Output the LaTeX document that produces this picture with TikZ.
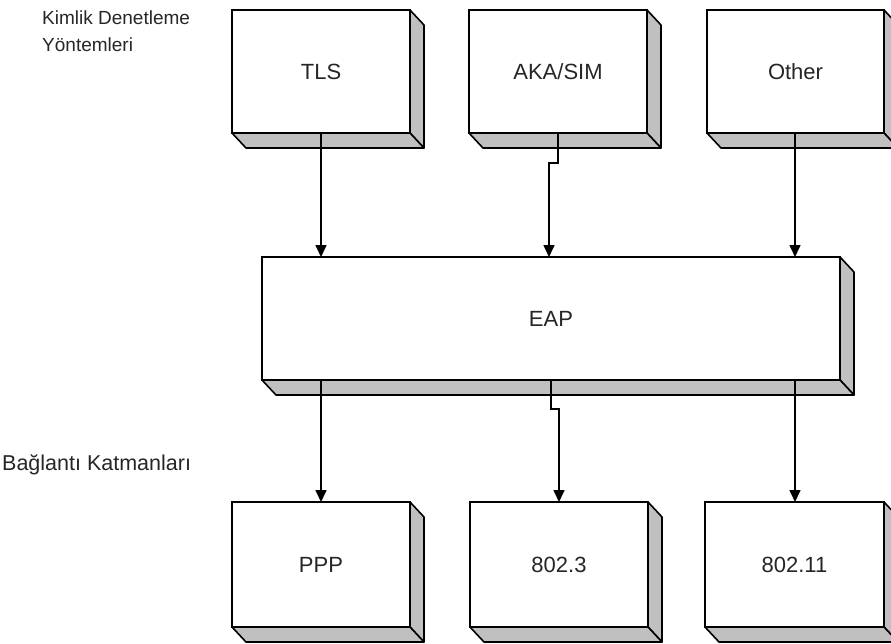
\documentclass[tikz,border=0pt]{standalone}
\usepackage{fontspec}
\setmainfont{Liberation Sans}
\usetikzlibrary{arrows.meta,calc}
\definecolor{sidegray}{HTML}{C0C0C0}
\begin{document}
\begin{tikzpicture}[x=1pt,y=-1pt,
  box3d/.style={draw=black, fill=white, line width=1.6pt, outer sep=0pt,
    minimum width=178pt, minimum height=123pt, inner sep=0pt,
    font=\fontsize{22}{26}\selectfont, text=black!85},
  face/.style={draw=black, fill=sidegray, line width=1.6pt, line join=round},
  link/.style={draw=black, line width=1.6pt, -{Triangle[width=11pt,length=12pt]}},
  side/.style={font=\fontsize{19}{27}\selectfont, text=black!85, align=left, anchor=west, inner sep=0pt}]
\useasboundingbox (0,0) rectangle (891,643);
\fill[white] (0,0) rectangle (891,643);

% upper row: authentication methods
\node[box3d] (tls) at (321,71.5) {TLS};
\node[box3d] (aka) at (558,71.5) {AKA/SIM};
\node[box3d, minimum width=177pt] (oth) at (795.5,71.5) {Other};
% middle: EAP
\node[box3d, minimum width=578pt] (eap) at (551,318.5) {EAP};
% lower row: link layers
\node[box3d, minimum height=125pt] (ppp) at (321,564.5) {PPP};
\node[box3d, minimum height=125pt] (e3) at (559,564.5) {802.3};
\node[box3d, minimum height=125pt, minimum width=179pt] (e11) at (794.5,564.5) {802.11};

% extruded right and bottom faces
\foreach \n in {tls,aka,oth,eap,ppp,e3,e11}{
  \path[face] (\n.north east) -- ++(14,15) -- ($(\n.south east)+(14,15)$) -- (\n.south east) -- cycle;
  \path[face] (\n.south west) -- ++(14,15) -- ($(\n.south east)+(14,15)$) -- (\n.south east) -- cycle;
}

% side captions
\node[side] (lblauth) at (42,31) {Kimlik Denetleme\\Yöntemleri};
\node[side, font=\fontsize{21.5}{26}\selectfont] (lbllink) at (2,465) {Bağlantı Katmanları};

% connectors
\draw[link] (tls.south) -- (tls.south |- eap.north);
\draw[link] (aka.south) -- ++(0,30) -| ([xshift=-9pt]aka.south |- eap.north);
\draw[link] ([xshift=-0.5pt]oth.south) -- ([xshift=-0.5pt]oth.south |- eap.north);
\draw[link] (ppp.north |- eap.south) -- (ppp.north);
\draw[link] (eap.south) -- ++(0,29) -| (e3.north);
\draw[link] ([xshift=0.5pt]e11.north |- eap.south) -- ([xshift=0.5pt]e11.north);
\end{tikzpicture}
\end{document}
